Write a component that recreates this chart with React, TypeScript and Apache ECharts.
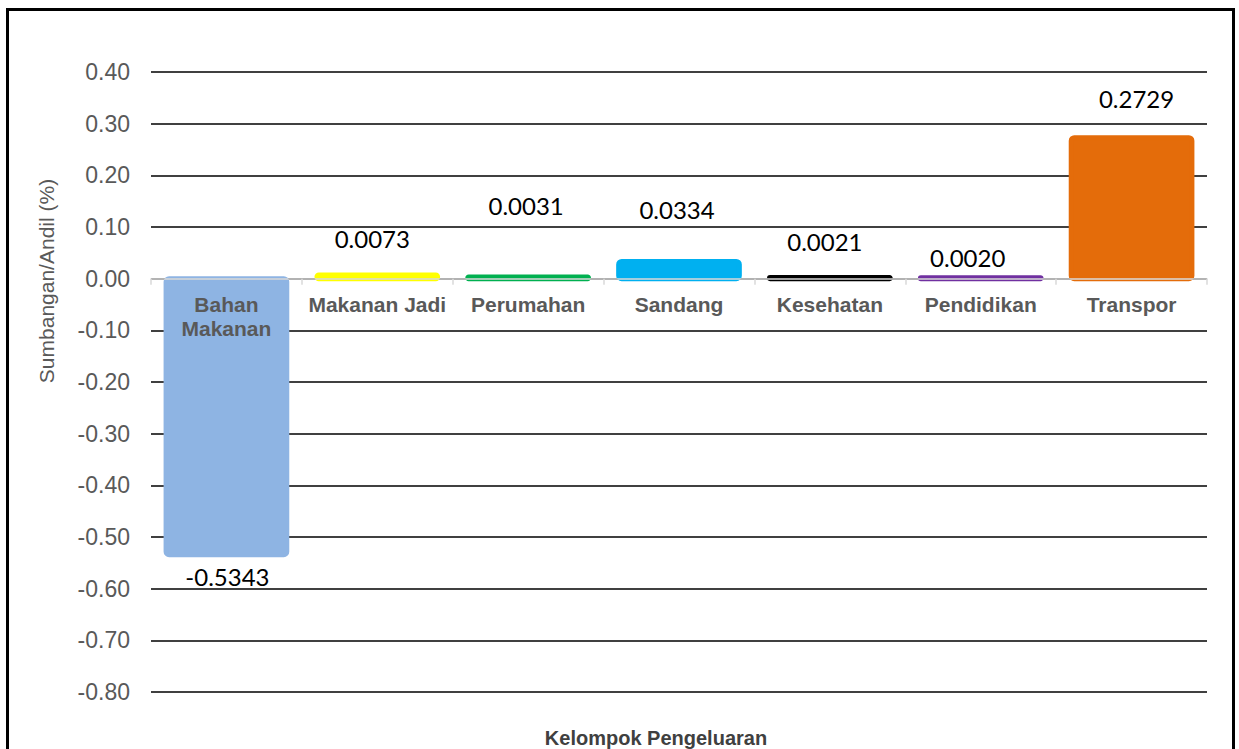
import React, { useEffect, useRef } from "react";
import * as echarts from "echarts";

const categories = ["Bahan Makanan", "Makanan Jadi", "Perumahan", "Sandang", "Kesehatan", "Pendidikan", "Transpor"];
const values = [-0.5343, 0.0073, 0.0031, 0.0334, 0.0021, 0.002, 0.2729];
const valueLabels = ["-0.5343", "0.0073", "0.0031", "0.0334", "0.0021", "0.0020", "0.2729"];
const barColors = ["#8EB4E3", "#FFFF00", "#00B050", "#00B0F0", "#000000", "#7030A0", "#E46C0A"];
const labelOffsets: [number, number][] = [[1, 5], [-5, -19], [-2, -55], [-2, -35], [-5, -19], [-13, -3], [5, -22]];
const yMin = -0.8;
const yMax = 0.4;
const yStep = 0.1;
const yAxisTitle = "Sumbangan/Andil (%)";
const xAxisTitle = "Kelompok Pengeluaran";

const GRID_TOP = 72;
const GRID_BOTTOM = 57;
const CHART_H = 749;
const BAR_RATIO = 0.8;
const BAR_BORDER = 5;

export default function App() {
  const ref = useRef<HTMLDivElement>(null);
  useEffect(() => {
    if (!ref.current) return;
    const chart = echarts.init(ref.current, null, { renderer: "svg" });
    const gridH = CHART_H - GRID_TOP - GRID_BOTTOM;
    const zeroOffset = (gridH * (0 - yMin)) / (yMax - yMin);
    const labelData = values.map((v, i) => ({
      value: v,
      label: {
        position: v < 0 ? "bottom" : "top",
        offset: labelOffsets[i],
        formatter: () => valueLabels[i],
      },
    }));
    chart.setOption({
      animation: false,
      backgroundColor: "#ffffff",
      grid: { left: 151, right: 32, top: GRID_TOP, bottom: GRID_BOTTOM, containLabel: false },
      xAxis: {
        type: "category",
        data: categories,
        z: 10,
        position: "bottom",
        offset: -zeroOffset,
        axisLine: { show: true, onZero: false, lineStyle: { color: "#D9D9D9", width: 1.5 } },
        axisTick: { show: true, length: 6, lineStyle: { color: "#D9D9D9", width: 1.5 } },
        axisLabel: {
          interval: 0,
          margin: 14,
          color: "#595959",
          fontFamily: "Liberation Sans",
          fontWeight: "bold",
          fontSize: 21,
          lineHeight: 24,
          formatter: (v: string) => (v === "Bahan Makanan" ? "Bahan\nMakanan" : v),
        },
        splitLine: { show: false },
      },
      yAxis: {
        type: "value",
        min: yMin,
        max: yMax,
        interval: yStep,
        axisLine: { show: false },
        axisTick: { show: false },
        axisLabel: {
          margin: 21,
          color: "#595959",
          fontFamily: "Liberation Sans",
          fontSize: 23,
          formatter: (v: number) => v.toFixed(2),
        },
        splitLine: { show: true, lineStyle: { color: "#000000", width: 1.5 } },
      },
      series: [
        {
          type: "custom",
          z: 2,
          data: values.map((v, i) => [i, v]),
          encode: { x: 0, y: 1 },
          renderItem: (params: any, api: any) => {
            const idx = api.value(0);
            const v = api.value(1);
            const p0 = api.coord([idx, 0]);
            const p1 = api.coord([idx, v]);
            const w = api.size([1, 0])[0] * BAR_RATIO;
            const color = barColors[params.dataIndex];
            return {
              type: "rect",
              shape: {
                x: p0[0] - w / 2,
                y: Math.min(p0[1], p1[1]),
                width: w,
                height: Math.abs(p1[1] - p0[1]),
                r: 3,
              },
              style: { fill: color, stroke: color, lineWidth: BAR_BORDER, lineJoin: "round" },
            };
          },
        },
        {
          type: "bar",
          z: 3,
          data: labelData,
          barWidth: "80%",
          itemStyle: { color: "rgba(0,0,0,0)" },
          label: {
            show: true,
            distance: 5,
            color: "#000000",
            fontFamily: "Lato",
            fontSize: 24,
            lineHeight: 24,
          },
        },
      ],
      graphic: [
        {
          type: "rect",
          shape: { x: 7.5, y: 9.5, width: 1226, height: 760 },
          style: { fill: "none", stroke: "#000000", lineWidth: 3 },
          z: 100,
        },
        {
          type: "text",
          x: 46,
          y: 281,
          rotation: Math.PI / 2,
          style: {
            text: yAxisTitle,
            fill: "#595959",
            font: "21px 'Liberation Sans'",
            align: "center",
            verticalAlign: "middle",
          },
        },
        {
          type: "text",
          x: 656,
          y: 738,
          style: {
            text: xAxisTitle,
            fill: "#404040",
            font: "bold 20px 'Liberation Sans'",
            align: "center",
            verticalAlign: "middle",
          },
        },
      ],
    });
    return () => chart.dispose();
  }, []);
  return <div ref={ref} style={{ position: "fixed", left: 0, top: 0, width: 1239, height: 749 }} />;
}
